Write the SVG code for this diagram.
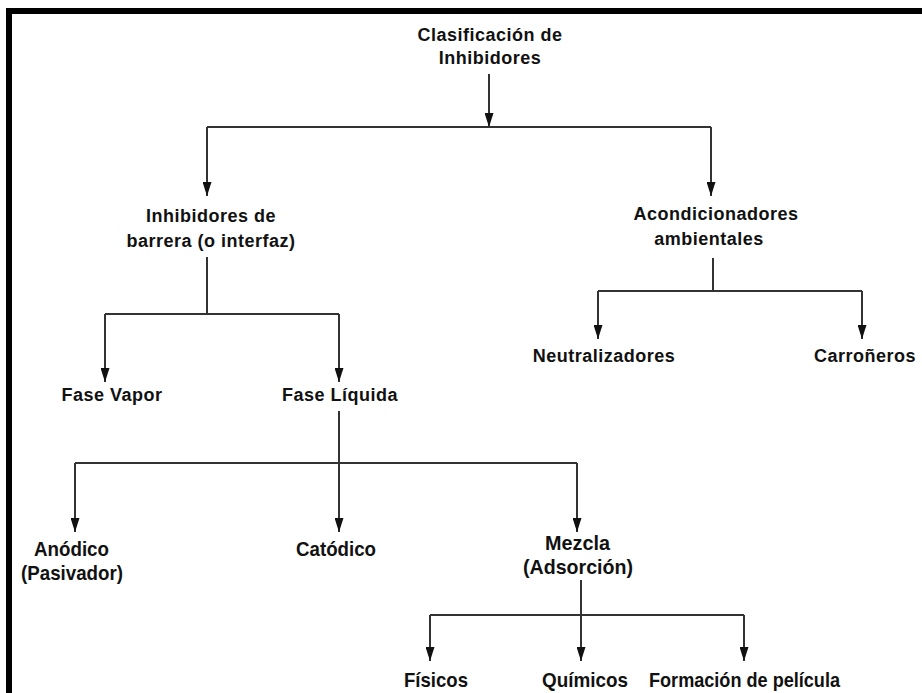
<svg xmlns="http://www.w3.org/2000/svg" width="922" height="693" viewBox="0 0 922 693">
  <style>
    .lbl { font-family: "Liberation Sans", Arial, sans-serif; font-weight: bold; font-size: 18px; letter-spacing: 0.5px; fill: #111; text-anchor: middle; }
    .nar { font-family: "Liberation Sans", Arial, sans-serif; font-weight: bold; font-size: 21px; fill: #111; }
    .edge { fill: none; stroke: #333; stroke-width: 2; }
  </style>
  <defs>
    <marker id="arrow" viewBox="0 0 14 9" refX="14" refY="4.5" markerWidth="14" markerHeight="9" markerUnits="userSpaceOnUse" orient="auto">
      <path d="M0,0 L14,4.5 L0,9 Z" fill="#111"/>
    </marker>
  </defs>

  <rect x="0" y="0" width="922" height="693" fill="#fff"/>
  <!-- outer frame -->
  <rect x="9" y="11" width="930" height="700" fill="none" stroke="#000" stroke-width="6"/>

  <g id="connectors">
    <!-- root -->
    <path class="edge" d="M489,74 V127" marker-end="url(#arrow)"/>
    <path class="edge" d="M207,127 H711"/>
    <path class="edge" d="M207,127 V196" marker-end="url(#arrow)"/>
    <path class="edge" d="M711,127 V196" marker-end="url(#arrow)"/>
    <!-- barrera -->
    <path class="edge" d="M207,257 V314"/>
    <path class="edge" d="M105,314 H339"/>
    <path class="edge" d="M105,314 V382" marker-end="url(#arrow)"/>
    <path class="edge" d="M339,314 V382" marker-end="url(#arrow)"/>
    <!-- fase liquida -->
    <path class="edge" d="M339,411 V532" marker-end="url(#arrow)"/>
    <path class="edge" d="M75,463 H577"/>
    <path class="edge" d="M75,463 V532" marker-end="url(#arrow)"/>
    <path class="edge" d="M577,463 V532" marker-end="url(#arrow)"/>
    <!-- mezcla -->
    <path class="edge" d="M581,580 V661" marker-end="url(#arrow)"/>
    <path class="edge" d="M430,615 H744"/>
    <path class="edge" d="M430,615 V661" marker-end="url(#arrow)"/>
    <path class="edge" d="M744,615 V661" marker-end="url(#arrow)"/>
    <!-- acondicionadores -->
    <path class="edge" d="M713,258 V291"/>
    <path class="edge" d="M598,291 H862"/>
    <path class="edge" d="M598,291 V339" marker-end="url(#arrow)"/>
    <path class="edge" d="M862,291 V339" marker-end="url(#arrow)"/>
  </g>

  <g id="root">
    <text class="lbl" x="490" y="41">Clasificación de</text>
    <text class="lbl" x="490" y="64">Inhibidores</text>
  </g>
  <g id="barrera">
    <text class="lbl" x="211" y="222">Inhibidores de</text>
    <text class="lbl" x="211" y="247">barrera (o interfaz)</text>
  </g>
  <g id="acondicionadores">
    <text class="lbl" x="716" y="220">Acondicionadores</text>
    <text class="lbl" x="709" y="245">ambientales</text>
  </g>
  <g id="fase-vapor">
    <text class="lbl" x="112" y="401">Fase Vapor</text>
  </g>
  <g id="fase-liquida">
    <text class="lbl" x="340" y="401">Fase Líquida</text>
  </g>
  <g id="neutralizadores">
    <text class="lbl" x="604" y="362">Neutralizadores</text>
  </g>
  <g id="carroneros">
    <text class="lbl" x="865" y="362">Carroñeros</text>
  </g>
  <g id="anodico">
    <text class="nar" x="34" y="556" textLength="75" lengthAdjust="spacingAndGlyphs">Anódico</text>
    <text class="nar" x="21" y="580" textLength="102" lengthAdjust="spacingAndGlyphs">(Pasivador)</text>
  </g>
  <g id="catodico">
    <text class="nar" x="296" y="556" textLength="80" lengthAdjust="spacingAndGlyphs">Catódico</text>
  </g>
  <g id="mezcla">
    <text class="nar" x="545" y="550" textLength="65" lengthAdjust="spacingAndGlyphs">Mezcla</text>
    <text class="nar" x="523" y="574" textLength="110" lengthAdjust="spacingAndGlyphs">(Adsorción)</text>
  </g>
  <g id="fisicos">
    <text class="nar" x="404" y="687" textLength="64" lengthAdjust="spacingAndGlyphs">Físicos</text>
  </g>
  <g id="quimicos">
    <text class="nar" x="542" y="687" textLength="86" lengthAdjust="spacingAndGlyphs">Químicos</text>
  </g>
  <g id="pelicula">
    <text class="nar" x="649" y="687" textLength="191" lengthAdjust="spacingAndGlyphs">Formación de película</text>
  </g>
</svg>
